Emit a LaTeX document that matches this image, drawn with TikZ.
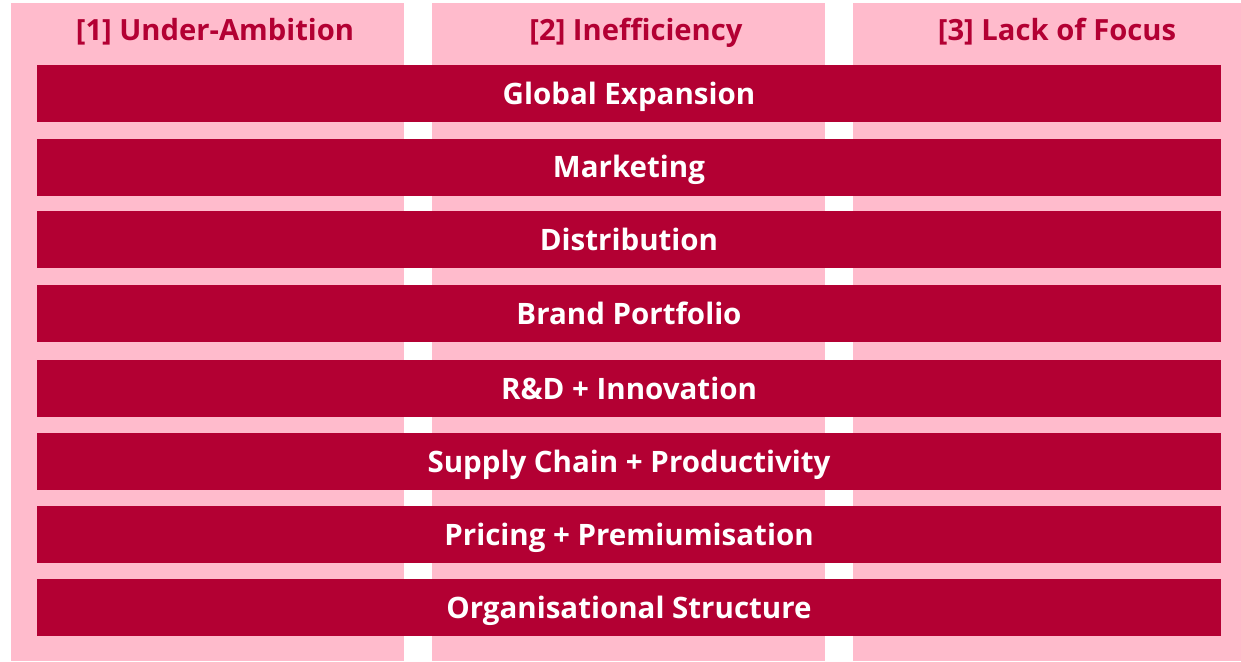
\documentclass[tikz,border=0pt]{standalone}
\usepackage{fontspec}
\setmainfont{Open Sans}
\definecolor{colpink}{HTML}{FFBBCC}
\definecolor{barred}{HTML}{B30033}
\begin{document}
\begin{tikzpicture}[x=1pt,y=-1pt,
  headtext/.style={text=barred,font=\fontsize{29.2}{34}\selectfont\bfseries,anchor=base,inner sep=0},
  barbox/.style={fill=barred,draw=none,minimum width=1184pt,minimum height=57pt,inner sep=0,
    text height=21pt,text depth=0pt,
    text=white,font=\fontsize{29.5}{34}\selectfont\bfseries,anchor=center}]
\useasboundingbox (0,0) rectangle (1241,661);
% three pink columns
\fill[colpink] (11,3) rectangle (404,661);
\fill[colpink] (432,3) rectangle (825,661);
\fill[colpink] (853,3) rectangle (1241,661);
% column headings
\node[headtext] (h1) at (215,41) {[1] Under-Ambition};
\node[headtext] (h2) at (636,41) {[2] Inefficiency};
\node[headtext] (h3) at (1057,41) {[3] Lack of Focus};
% horizontal bars
\node[barbox] (b1) at (629,93.5) {Global Expansion};
\node[barbox] (b2) at (629,167) {Marketing};
\node[barbox] (b3) at (629,239.5) {Distribution};
\node[barbox] (b4) at (629,313.5) {Brand Portfolio};
\node[barbox] (b5) at (629,388.5) {R\&D + Innovation};
\node[barbox] (b6) at (629,461.5) {Supply Chain + Productivity};
\node[barbox] (b7) at (629,534.5) {Pricing + Premiumisation};
\node[barbox] (b8) at (629,607.5) {Organisational Structure};
\end{tikzpicture}
\end{document}
